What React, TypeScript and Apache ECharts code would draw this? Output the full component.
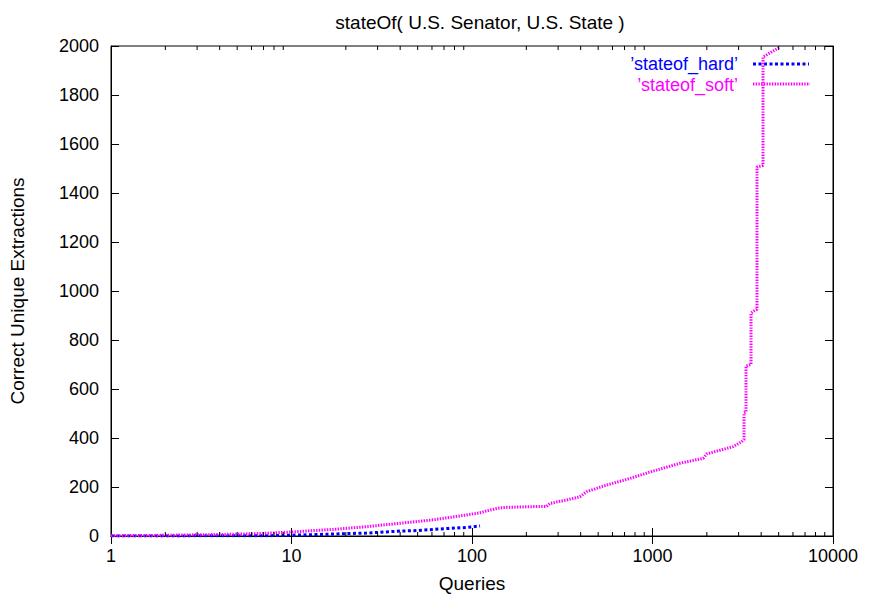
import React, { useEffect, useRef } from "react";
import * as echarts from "echarts";

// Queries (log scale) vs. correct unique extractions, two extraction modes
const hardQueries = [1, 7.3, 11.1, 17, 26, 40, 49.4, 61, 75.5, 93.5, 110.8];
const hardValues = [0, 1, 4, 8, 12, 20, 22, 27, 31, 35, 41];

const softQueries = [
  1, 2.04, 4.74, 7.28, 10.2, 17.1, 26.1, 39.9, 61, 66.5, 93.5, 110.8, 126, 143, 156, 219, 259, 270, 334, 396,
  432, 557, 719, 1011, 1420, 1911, 1995, 2806, 3120, 3214, 3214, 3296, 3296, 3514, 3514, 3698, 3793, 3793, 4095,
  4095, 5086,
];
const softValues = [
  1, 3, 7, 11, 17, 27, 38, 52, 66, 70, 86, 95, 106, 115, 117, 120, 121, 133, 147, 160, 181, 208, 231, 265, 297,
  317, 335, 365, 385, 395, 502, 506, 694, 700, 910, 922, 925, 1506, 1512, 1955, 1996,
];

// Minor tick positions of the logarithmic x axis (2..9 per decade)
const minorTickValues = [
  2, 3, 4, 5, 6, 7, 8, 9, 20, 30, 40, 50, 60, 70, 80, 90, 200, 300, 400, 500, 600, 700, 800, 900, 2000, 3000,
  4000, 5000, 6000, 7000, 8000, 9000,
];

const xMin = 1;
const xMax = 10000;
const yMin = 0;
const yMax = 2000;
const yStep = 200;

const titleText = "stateOf( U.S. Senator, U.S. State )";
const xName = "Queries";
const yName = "Correct Unique Extractions";
const hardLabel = "\u2019stateof_hard\u2019";
const softLabel = "\u2019stateof_soft\u2019";

const FONT = "'Liberation Sans', Arial, Helvetica, sans-serif";
const HARD_COLOR = "#0000ff";
const SOFT_COLOR = "#ff00ff";

export default function App() {
  const ref = useRef<HTMLDivElement>(null);

  useEffect(() => {
    if (!ref.current) return;
    const chart = echarts.init(ref.current, undefined, { renderer: "svg" });

    const hardData = hardQueries.map((q, i) => [q, hardValues[i]]);
    const softData = softQueries.map((q, i) => [q, softValues[i]]);
    const minorData = minorTickValues.map((v) => [v, yMin]);

    const tickLabel = { color: "#000", fontFamily: FONT, fontSize: 18 };
    const fmt = (v: number) => String(Math.round(v));

    chart.setOption({
      animation: false,
      backgroundColor: "#fff",
      title: {
        text: titleText,
        left: 475,
        top: 8,
        textAlign: "center",
        textStyle: { color: "#000", fontFamily: FONT, fontSize: 19, fontWeight: "normal" },
      },
      grid: {
        left: 111,
        right: 37,
        top: 46,
        bottom: 66,
        show: true,
        borderColor: "#000",
        borderWidth: 1,
        backgroundColor: "transparent",
      },
      xAxis: [
        {
          type: "log",
          logBase: 10,
          min: xMin,
          max: xMax,
          position: "bottom",
          name: xName,
          nameLocation: "middle",
          nameGap: 38,
          nameTextStyle: { color: "#000", fontFamily: FONT, fontSize: 19 },
          axisLine: { show: true, lineStyle: { color: "#000", width: 1 } },
          axisTick: { show: true, inside: true, length: 8, lineStyle: { color: "#000" } },
          axisLabel: { ...tickLabel, margin: 11, formatter: fmt },
          splitLine: { show: false },
          minorTick: { show: false },
        },
        {
          type: "log",
          logBase: 10,
          min: xMin,
          max: xMax,
          position: "top",
          axisLine: { show: true, lineStyle: { color: "#000", width: 1 } },
          axisTick: { show: true, inside: true, length: 8, lineStyle: { color: "#000" } },
          axisLabel: { show: false },
          splitLine: { show: false },
        },
      ],
      yAxis: [
        {
          type: "value",
          min: yMin,
          max: yMax,
          interval: yStep,
          position: "left",
          name: yName,
          nameLocation: "middle",
          nameGap: 84,
          nameTextStyle: { color: "#000", fontFamily: FONT, fontSize: 19 },
          axisLine: { show: true, lineStyle: { color: "#000", width: 1 } },
          axisTick: { show: true, inside: true, length: 8, lineStyle: { color: "#000" } },
          axisLabel: { ...tickLabel, margin: 12, formatter: fmt },
          splitLine: { show: false },
        },
        {
          type: "value",
          min: yMin,
          max: yMax,
          interval: yStep,
          position: "right",
          axisLine: { show: true, lineStyle: { color: "#000", width: 1 } },
          axisTick: { show: true, inside: true, length: 8, lineStyle: { color: "#000" } },
          axisLabel: { show: false },
          splitLine: { show: false },
        },
      ],
      series: [
        {
          name: hardLabel,
          type: "line",
          xAxisIndex: 0,
          yAxisIndex: 0,
          data: hardData,
          showSymbol: false,
          symbol: "none",
          lineStyle: { color: HARD_COLOR, width: 3, type: [3, 2.5] },
          z: 3,
        },
        {
          name: softLabel,
          type: "line",
          xAxisIndex: 0,
          yAxisIndex: 0,
          data: softData,
          showSymbol: false,
          symbol: "none",
          lineStyle: { color: SOFT_COLOR, width: 3, type: [1.4, 1.3] },
          z: 4,
        },
        {
          type: "custom",
          xAxisIndex: 0,
          yAxisIndex: 0,
          silent: true,
          clip: false,
          data: minorData,
          encode: { x: 0, y: 1 },
          renderItem: (params: any, api: any) => {
            const v = api.value(0);
            const b = api.coord([v, yMin]);
            const t = api.coord([v, yMax]);
            return {
              type: "group",
              children: [
                {
                  type: "line",
                  shape: { x1: b[0], y1: b[1], x2: b[0], y2: b[1] - 4 },
                  style: { stroke: "#000", lineWidth: 1 },
                },
                {
                  type: "line",
                  shape: { x1: t[0], y1: t[1], x2: t[0], y2: t[1] + 4 },
                  style: { stroke: "#000", lineWidth: 1 },
                },
              ],
            };
          },
          z: 5,
        },
      ],
      graphic: [
        {
          type: "text",
          right: 870 - 738,
          top: 55,
          style: {
            text: hardLabel,
            fill: HARD_COLOR,
            font: `18px ${FONT}`,
          },
        },
        {
          type: "text",
          right: 870 - 738,
          top: 76,
          style: {
            text: softLabel,
            fill: SOFT_COLOR,
            font: `18px ${FONT}`,
          },
        },
        {
          type: "line",
          shape: { x1: 753, y1: 64, x2: 809, y2: 64 },
          style: { stroke: HARD_COLOR, lineWidth: 3, lineDash: [3, 2.5] },
        },
        {
          type: "line",
          shape: { x1: 753, y1: 84, x2: 810, y2: 84 },
          style: { stroke: SOFT_COLOR, lineWidth: 3, lineDash: [1.4, 1.3] },
        },
      ],
    });

    return () => chart.dispose();
  }, []);

  return <div ref={ref} style={{ width: 870, height: 602, position: "absolute", left: 0, top: 0 }} />;
}
